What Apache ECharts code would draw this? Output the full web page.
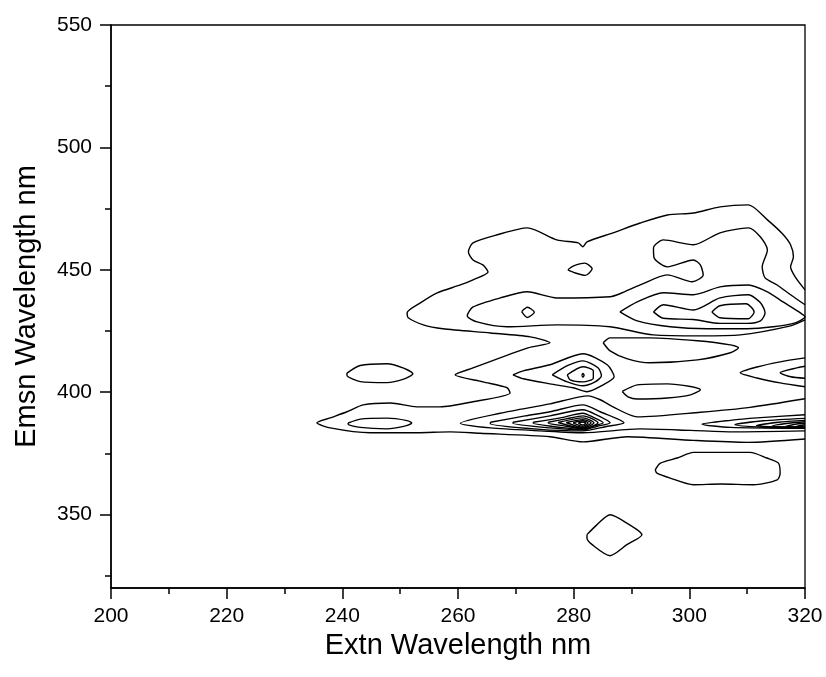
<!DOCTYPE html>
<html><head><meta charset="utf-8">
<script src="https://cdn.jsdelivr.net/npm/echarts@6/dist/echarts.min.js"></script>
<style>html,body{margin:0;padding:0;background:#fff}#c{width:826px;height:677px}</style>
</head><body><div id="c"></div>
<script>
// Axis ticks (nm)
const xRange = [200, 320];
const yRange = [320, 550];
const yTicks = [350, 400, 450, 500, 550];
const yMinorTicks = [325, 375, 425, 475, 525];

// Contour lines, [Extn nm, Emsn nm]
const c1 = [[320.0,441.8],[318.3,447.1],[317.5,451.2],[318.0,455.3],[317.5,460.2],[316.1,464.7],[313.5,470.4],[310.2,476.5],[305.3,475.7],[300.7,473.2],[296.2,472.4],[291.5,469.1],[286.8,465.1],[282.3,461.4],[281.6,459.4],[280.8,461.0],[277.1,462.2],[272.0,467.1],[266.8,464.3],[262.6,461.0],[261.8,457.3],[262.6,454.0],[264.3,452.0],[265.2,449.1],[262.6,445.9],[260.4,443.8],[256.4,440.6],[253.5,436.5],[251.2,432.4],[251.4,430.4],[254.0,427.5],[257.4,425.9],[265.6,424.2],[272.5,422.6],[275.9,420.2],[272.1,418.1],[262.6,409.9],[259.5,407.1],[264.3,404.2],[268.5,401.8],[269.0,399.7],[262.6,396.1],[256.9,394.0],[252.9,394.0],[248.3,395.6],[243.6,394.8],[240.8,392.0],[237.9,389.5],[235.6,387.5],[237.9,385.4],[244.8,383.4],[252.9,383.4],[258.6,383.8],[263.8,383.2],[275.9,381.8],[281.6,379.7],[289.3,381.8],[300.7,380.3],[310.0,379.5],[320.0,380.9]];
const c2 = [[320.0,435.7],[317.5,439.8],[315.2,443.8],[313.1,446.7],[312.6,451.2],[313.5,458.1],[312.3,463.4],[310.2,467.1],[305.3,465.1],[300.7,460.2],[295.5,462.2],[293.8,458.9],[293.9,454.9],[296.2,451.2],[300.7,454.0],[301.9,452.0],[302.4,447.9],[300.5,445.1],[296.2,447.9],[291.5,443.8],[288.0,440.2],[286.3,439.0],[277.1,438.5],[272.0,441.0],[267.3,438.5],[262.6,434.8],[261.6,431.2],[263.3,428.7],[268.5,426.7],[277.1,427.5],[286.3,426.7],[293.8,423.4],[301.9,423.0],[308.8,423.4],[317.5,427.1],[320.0,429.5]];
const c4 = [[288.0,432.8],[291.0,436.9],[295.5,440.6],[300.7,439.8],[305.3,443.0],[310.2,443.8],[313.5,441.0],[316.2,436.9],[319.2,432.4],[320.0,430.8],[318.3,428.3],[314.5,426.7],[310.0,425.9],[303.1,425.9],[296.7,426.7],[291.0,429.1]];
const c5 = [[293.8,432.8],[295.5,435.7],[300.7,433.6],[305.3,438.5],[310.2,439.8],[312.3,436.5],[313.1,432.4],[312.3,429.1],[310.0,428.1],[305.3,428.1],[300.7,429.7],[295.5,430.2]];
const c6 = [[303.9,432.8],[305.3,435.3],[309.8,436.1],[311.2,432.8],[310.2,430.0],[305.3,430.4]];
const q1 = [[285.1,420.2],[286.3,422.2],[293.2,422.2],[301.4,421.0],[307.1,419.3],[308.5,418.1],[307.1,416.1],[301.4,413.2],[293.2,412.0],[289.3,413.6],[286.3,416.9]];
const r0 = [[288.4,400.3],[291.0,403.0],[296.2,403.4],[300.2,402.3],[301.9,401.0],[300.2,398.9],[296.2,397.6],[291.0,397.2],[289.4,398.1]];
const r1 = [[320.0,414.0],[315.7,412.4],[311.7,410.3],[308.8,407.9],[311.7,405.8],[315.7,403.8],[320.0,402.2]];
const r2 = [[320.0,410.6],[318.7,410.0],[315.7,407.9],[317.5,406.3],[320.0,405.7]];
const p0 = [[269.5,407.1],[271.3,408.7],[275.9,411.2],[281.6,415.7],[285.8,411.2],[287.0,406.3],[285.1,403.0],[282.3,400.2],[279.9,401.8],[275.9,403.4],[271.3,405.5]];
const p1 = [[276.3,407.1],[278.9,410.8],[281.6,412.8],[284.2,410.0],[284.8,406.7],[283.7,404.2],[281.6,402.6],[278.9,404.2]];
const p2 = [[278.9,407.1],[281.6,410.4],[283.4,408.7],[283.4,405.7],[281.6,404.2],[279.4,405.0]];
const p3 = [[281.4,406.9],[281.6,407.7],[281.8,406.9],[281.6,406.1]];
const l0 = [[320.0,397.3],[310.5,393.8],[301.9,391.8],[291.0,389.9],[286.8,394.0],[284.6,396.9],[282.5,398.5],[275.9,395.2],[267.3,391.4],[260.4,387.3],[265.6,385.4],[274.2,384.2],[281.6,383.4],[291.5,385.0],[300.2,384.4],[307.6,383.8],[320.0,384.2]];
const l1 = [[265.6,387.7],[271.6,390.3],[275.9,392.0],[281.6,394.8],[284.6,392.0],[288.7,387.5],[285.5,385.9],[281.6,384.2],[274.2,384.8],[265.6,387.1]];
const l2 = [[269.5,387.7],[275.9,390.3],[281.6,392.8],[283.9,390.8],[286.3,387.5],[284.1,386.1],[281.6,384.6],[275.9,385.4],[269.5,387.3]];
const l3 = [[273.0,387.7],[277.7,389.5],[281.6,391.4],[283.4,389.7],[285.1,387.5],[283.6,386.3],[281.6,384.8],[277.7,385.6],[273.0,387.4]];
const l4 = [[275.6,387.7],[278.7,389.1],[281.6,390.3],[284.2,387.5],[281.6,385.0],[278.7,386.1],[275.6,387.4]];
const l5 = [[277.3,387.6],[281.6,389.5],[283.5,387.5],[281.6,385.3]];
const l6 = [[278.7,387.6],[281.6,388.8],[283.0,387.5],[281.6,385.6]];
const l7 = [[279.9,387.5],[281.6,388.3],[282.5,387.4],[281.6,386.1]];
const l8 = [[280.8,387.4],[281.6,387.8],[282.1,387.3],[281.6,386.6]];
const k1 = [[320.0,390.8],[311.7,389.5],[307.1,388.5],[302.2,386.9],[307.1,385.6],[320.0,385.2]];
const k2 = [[320.0,389.3],[312.8,388.3],[307.9,386.7],[312.8,385.7],[320.0,385.3]];
const k3 = [[320.0,388.5],[315.4,387.7],[311.6,386.3],[315.4,385.8],[320.0,385.6]];
const k4 = [[320.0,387.9],[317.1,387.3],[314.3,386.1],[317.1,385.8],[320.0,385.7]];
const k5 = [[320.0,387.3],[318.3,386.9],[316.6,385.9],[318.3,385.8],[320.0,385.8]];
const k6 = [[320.0,386.7],[318.3,385.9],[320.0,385.8]];
const e1 = [[240.8,407.8],[243.1,410.9],[247.7,411.6],[250.6,409.8],[252.2,407.5],[250.6,405.3],[247.7,403.9],[243.1,404.3],[240.8,406.9]];
const e2 = [[241.0,387.4],[243.1,389.0],[247.7,389.4],[251.2,388.4],[252.0,387.4],[250.6,386.0],[247.7,385.0],[243.1,385.6],[241.0,386.9]];
const b1 = [[294.1,368.3],[295.0,371.0],[297.9,373.1],[300.7,375.4],[310.5,375.4],[313.4,373.1],[315.4,371.0],[315.7,366.9],[315.2,364.2],[311.1,362.2],[305.4,362.5],[300.7,362.2],[296.7,364.9],[294.4,366.9]];
const b2 = [[282.3,341.8],[284.0,345.8],[286.3,349.9],[289.2,346.5],[291.8,341.8],[289.2,337.7],[286.3,333.2],[283.2,337.7],[282.3,340.4]];
const s1 = [[279.0,450.0],[280.0,451.6],[281.9,452.7],[283.2,450.4],[282.0,447.7],[280.3,448.7]];
const s2 = [[271.0,432.9],[272.0,434.7],[273.2,432.7],[272.0,430.5]];

const openLines = [c1, c2, r1, r2, l0, k1, k2, k3, k4, k5, k6];
const closedLines = [c4, c5, c6, q1, r0, p0, p1, p2, p3, l1, l2, l3, l4, l5, l6, l7, l8, e1, e2, b1, b2, s1, s2];

const FONT = 'Liberation Sans, Arial, Helvetica, sans-serif';
const close = pts => pts.concat([pts[0]]);
const lineSeries = pts => ({
  type: 'line', data: pts, showSymbol: false, symbol: 'none', smooth: 0.25,
  lineStyle: { color: '#000', width: 1.4 }, silent: true, clip: true, z: 3
});
const series = openLines.map(lineSeries).concat(closedLines.map(p => lineSeries(close(p))));

const chart = echarts.init(document.getElementById('c'), null, { renderer: 'canvas' });
chart.setOption({
  animation: false,
  backgroundColor: '#fff',
  grid: { left: 111, right: 21, top: 25, bottom: 89, show: true, borderColor: '#000', borderWidth: 1.3, backgroundColor: 'transparent' },
  xAxis: {
    type: 'value', min: xRange[0], max: xRange[1], interval: 20,
    axisLine: { show: true, onZero: false, lineStyle: { color: '#000', width: 1.5 } },
    axisTick: { show: true, length: 11, lineStyle: { color: '#000', width: 1.5 } },
    minorTick: { show: true, splitNumber: 2, length: 6, lineStyle: { color: '#000', width: 1.5 } },
    splitLine: { show: false }, minorSplitLine: { show: false },
    axisLabel: { color: '#000', fontSize: 21, fontFamily: FONT, margin: 18 },
    name: 'Extn Wavelength nm', nameLocation: 'middle', nameGap: 21,
    nameTextStyle: { color: '#000', fontSize: 29, fontFamily: FONT, verticalAlign: 'top' }
  },
  yAxis: [{
    type: 'value', min: yRange[0], max: yRange[1],
    axisLine: { show: true, onZero: false, lineStyle: { color: '#000', width: 1.5 } },
    axisTick: { show: true, length: 11, customValues: yTicks, lineStyle: { color: '#000', width: 1.5 } },
    splitLine: { show: false },
    axisLabel: { color: '#000', fontSize: 21, fontFamily: FONT, margin: 19, customValues: yTicks },
    name: 'Emsn Wavelength nm', nameLocation: 'middle', nameGap: 70, nameRotate: 90,
    nameTextStyle: { color: '#000', fontSize: 29, fontFamily: FONT }
  }, {
    type: 'value', min: yRange[0], max: yRange[1], position: 'left',
    axisLine: { show: false },
    axisTick: { show: true, length: 6, customValues: yMinorTicks, lineStyle: { color: '#000', width: 1.5 } },
    axisLabel: { show: false }, splitLine: { show: false }
  }],
  series: series
});
</script></body></html>
